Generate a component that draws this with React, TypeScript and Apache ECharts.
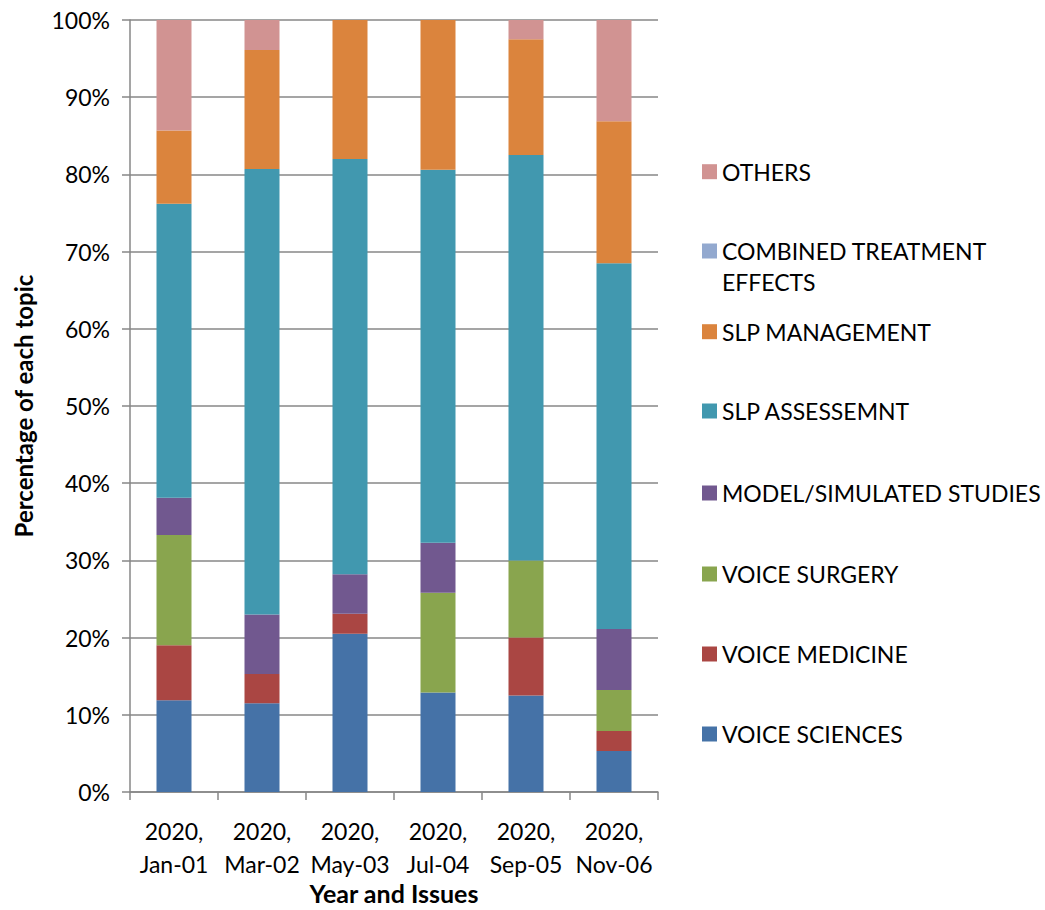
import React, { useEffect, useRef } from "react";
import * as echarts from "echarts";

const categories = ["2020,\nJan-01", "2020,\nMar-02", "2020,\nMay-03", "2020,\nJul-04", "2020,\nSep-05", "2020,\nNov-06"];

const voiceSciences = [11.9, 11.5, 20.5, 12.9, 12.5, 5.3];
const voiceMedicine = [7.1, 3.8, 2.6, 0, 7.5, 2.6];
const voiceSurgery = [14.3, 0, 0, 12.9, 10.0, 5.3];
const modelSimulated = [4.8, 7.7, 5.1, 6.5, 0, 7.9];
const slpAssessment = [38.1, 57.7, 53.8, 48.3, 52.5, 47.4];
const slpManagement = [9.5, 15.4, 18.0, 19.4, 15.0, 18.4];
const combinedTreatment = [0, 0, 0, 0, 0, 0];
const others = [14.3, 3.9, 0, 0, 2.5, 13.1];

const seriesNames = [
  "VOICE SCIENCES",
  "VOICE MEDICINE",
  "VOICE SURGERY",
  "MODEL/SIMULATED STUDIES",
  "SLP ASSESSEMNT",
  "SLP MANAGEMENT",
  "COMBINED TREATMENT EFFECTS",
  "OTHERS",
];
const seriesData = [voiceSciences, voiceMedicine, voiceSurgery, modelSimulated, slpAssessment, slpManagement, combinedTreatment, others];
const seriesColors = ["#4572A7", "#AA4643", "#89A54E", "#71588F", "#4198AF", "#DB843D", "#93A9CF", "#D19392"];

// legend layout: marker centre y for each series (same order as seriesNames)
const legendCenters = [734, 654, 574, 493, 411, 331.7, 251, 171.7];

const FONT = "Lato";
const LH = 31;

export default function App() {
  const ref = useRef<HTMLDivElement>(null);
  useEffect(() => {
    if (!ref.current) return;
    const chart = echarts.init(ref.current, null, { renderer: "svg" });
    const legends = seriesNames.map((name, i) => {
      const isCombined = name === "COMBINED TREATMENT EFFECTS";
      const blockH = isCombined ? LH * 3 : LH;
      return {
        orient: "vertical",
        left: 702,
        top: legendCenters[i] - blockH / 2,
        itemWidth: 15,
        itemHeight: 15,
        icon: "rect",
        selectedMode: false,
        padding: 0,
        formatter: isCombined ? () => "\nCOMBINED TREATMENT\nEFFECTS" : undefined,
        textStyle: {
          fontFamily: FONT,
          fontSize: 23,
          color: "#000",
          lineHeight: LH,
        },
        data: [name],
      };
    });
    chart.setOption({
      animation: false,
      backgroundColor: "#fff",
      textStyle: { fontFamily: FONT },
      grid: { left: 130, right: 387, top: 20, bottom: 118, containLabel: false, outerBoundsMode: "none" },
      legend: legends,
      xAxis: {
        type: "category",
        data: categories,
        name: "Year and Issues",
        nameLocation: "middle",
        nameGap: 88,
        nameMoveOverlap: false,
        nameTextStyle: { fontFamily: FONT, fontSize: 25, lineHeight: 25, fontWeight: "bold", color: "#000", verticalAlign: "top" },
        axisLine: { lineStyle: { color: "#878787", width: 1.5 } },
        axisTick: { show: true, length: 8, alignWithLabel: false, lineStyle: { color: "#878787", width: 1.5 } },
        axisLabel: { fontFamily: FONT, fontSize: 23, color: "#000", lineHeight: 33, margin: 22, interval: 0 },
      },
      yAxis: {
        type: "value",
        min: 0,
        max: 100,
        interval: 10,
        name: "Percentage of each topic",
        nameLocation: "middle",
        nameGap: 95,
        nameTextStyle: { fontFamily: FONT, fontSize: 24, fontWeight: "bold", color: "#000" },
        axisLine: { show: true, lineStyle: { color: "#878787", width: 1.5 } },
        axisTick: { show: true, length: 8, lineStyle: { color: "#878787", width: 1.5 } },
        axisLabel: { fontFamily: FONT, fontSize: 23, color: "#000", margin: 20, formatter: "{value}%" },
        splitLine: { show: true, lineStyle: { color: "#878787", width: 1.5 } },
      },
      series: seriesNames.map((name, i) => ({
        name,
        type: "bar",
        stack: "total",
        barWidth: 35,
        data: seriesData[i],
        itemStyle: { color: seriesColors[i] },
      })),
    });
    return () => chart.dispose();
  }, []);
  return <div ref={ref} style={{ position: "absolute", left: 0, top: 0, width: 1045, height: 910 }} />;
}
